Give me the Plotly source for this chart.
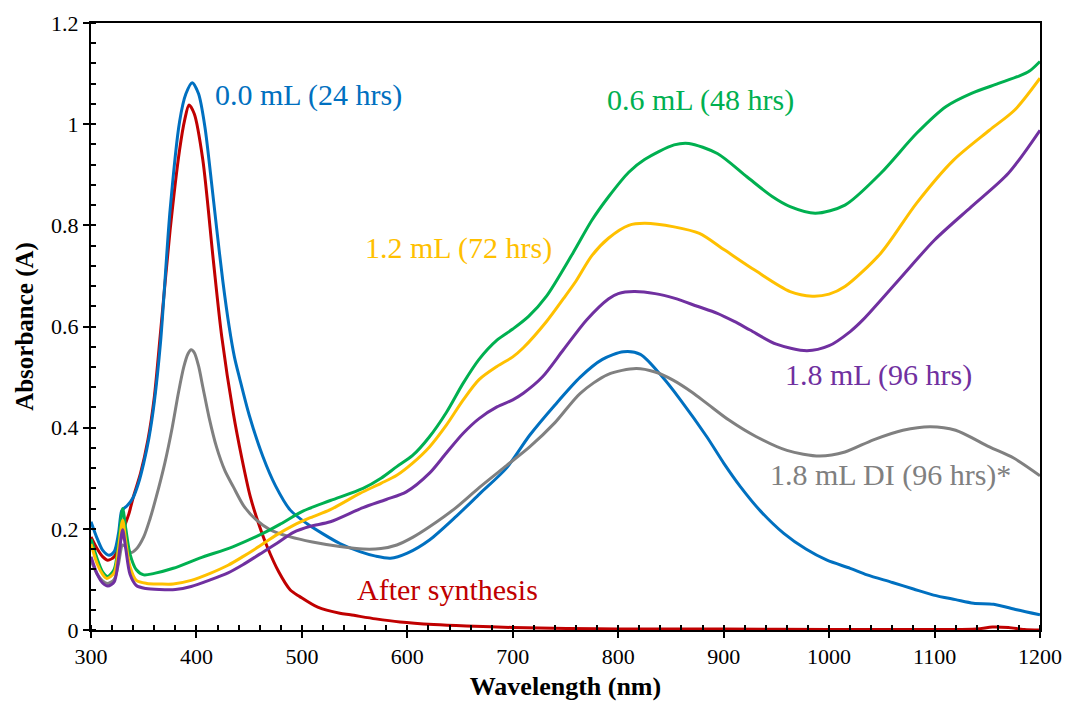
import plotly.graph_objects as go

# ---- data (wavelength in nm, absorbance in A) ----
wl_00 = [300, 306, 311, 317, 322, 326, 329, 331, 334, 340, 345, 350, 355, 360, 366, 375, 384, 390, 396, 402, 408, 414, 419, 425, 431, 436, 441, 450, 463, 475, 489, 505, 520, 536, 555, 570, 584, 600, 621, 645, 669, 694, 716, 740, 764, 785, 805, 821, 842, 859, 884, 900, 916, 935, 957, 978, 998, 1020, 1036, 1060, 1080, 1099, 1120, 1137, 1156, 1178, 1200]
abs_00 = [0.214, 0.18, 0.158, 0.148, 0.155, 0.19, 0.235, 0.24, 0.245, 0.262, 0.29, 0.33, 0.38, 0.45, 0.57, 0.83, 1.005, 1.06, 1.082, 1.06, 0.995, 0.89, 0.797, 0.69, 0.6, 0.54, 0.497, 0.425, 0.343, 0.285, 0.237, 0.21, 0.19, 0.171, 0.155, 0.146, 0.142, 0.152, 0.178, 0.222, 0.27, 0.32, 0.385, 0.445, 0.5, 0.535, 0.55, 0.545, 0.5, 0.455, 0.382, 0.33, 0.283, 0.235, 0.191, 0.16, 0.138, 0.122, 0.109, 0.094, 0.081, 0.069, 0.06, 0.053, 0.051, 0.04, 0.03]

wl_after = [300, 306, 311, 316, 322, 327, 331, 336, 340, 347, 354, 360, 366, 375, 384, 389, 393, 398, 406, 416, 424, 435, 443, 451, 459, 467, 478, 489, 498, 515, 536, 546, 570, 593, 625, 656, 700, 751, 800, 900, 1000, 1100, 1140, 1155, 1170, 1185, 1200]
abs_after = [0.184, 0.16, 0.145, 0.138, 0.145, 0.17, 0.2, 0.23, 0.262, 0.31, 0.376, 0.46, 0.59, 0.79, 0.949, 1.01, 1.038, 1.02, 0.93, 0.731, 0.58, 0.428, 0.34, 0.264, 0.21, 0.165, 0.115, 0.079, 0.066, 0.045, 0.033, 0.03, 0.022, 0.016, 0.011, 0.008, 0.005, 0.003, 0.002, 0.002, 0.001, 0.001, 0.002, 0.006, 0.005, 0.001, 0.0]

wl_di = [300, 306, 311, 316, 322, 326, 330, 334, 338, 343, 350, 356, 362, 370, 377, 383, 388, 392, 395, 398, 402, 406, 412, 419, 427, 435, 445, 457, 470, 489, 510, 536, 558, 575, 590, 605, 621, 645, 669, 694, 716, 740, 764, 790, 817, 835, 852, 870, 884, 905, 931, 960, 991, 1015, 1042, 1070, 1096, 1120, 1152, 1175, 1200]
abs_di = [0.138, 0.11, 0.097, 0.092, 0.1, 0.13, 0.168, 0.162, 0.153, 0.16, 0.184, 0.22, 0.264, 0.33, 0.4, 0.47, 0.52, 0.546, 0.554, 0.548, 0.522, 0.481, 0.42, 0.362, 0.315, 0.283, 0.245, 0.217, 0.198, 0.184, 0.174, 0.165, 0.16, 0.161, 0.168, 0.183, 0.204, 0.24, 0.283, 0.325, 0.362, 0.41, 0.468, 0.505, 0.517, 0.51, 0.494, 0.47, 0.448, 0.415, 0.382, 0.355, 0.344, 0.352, 0.376, 0.395, 0.402, 0.395, 0.362, 0.34, 0.305]

wl_06 = [300, 306, 311, 316, 322, 326, 330, 333, 337, 343, 350, 360, 378, 403, 435, 463, 480, 501, 527, 558, 575, 590, 605, 621, 637, 653, 668, 685, 700, 715, 732, 757, 775, 791, 810, 825, 853, 867, 894, 922, 946, 963, 987, 1015, 1049, 1083, 1111, 1135, 1160, 1180, 1190, 1200]
abs_06 = [0.18, 0.14, 0.115, 0.106, 0.12, 0.17, 0.24, 0.2, 0.15, 0.119, 0.109, 0.112, 0.122, 0.142, 0.165, 0.191, 0.21, 0.235, 0.256, 0.28, 0.3, 0.323, 0.345, 0.382, 0.43, 0.488, 0.535, 0.573, 0.595, 0.62, 0.66, 0.745, 0.81, 0.857, 0.905, 0.93, 0.959, 0.962, 0.942, 0.896, 0.857, 0.837, 0.824, 0.84, 0.903, 0.982, 1.035, 1.061, 1.08, 1.095, 1.105, 1.124]

wl_12 = [300, 306, 311, 315, 322, 326, 330, 333, 337, 343, 353, 365, 378, 395, 413, 430, 444, 460, 476, 492, 508, 527, 555, 575, 590, 605, 621, 637, 653, 668, 685, 700, 710, 732, 748, 760, 775, 791, 810, 825, 853, 877, 901, 929, 963, 984, 1000, 1015, 1049, 1083, 1118, 1152, 1176, 1200]
abs_12 = [0.17, 0.13, 0.11, 0.102, 0.113, 0.16, 0.217, 0.175, 0.125, 0.098, 0.092, 0.091, 0.091, 0.098, 0.112, 0.128, 0.145, 0.166, 0.188, 0.207, 0.222, 0.238, 0.27, 0.29, 0.306, 0.33, 0.362, 0.405, 0.455, 0.495, 0.521, 0.54, 0.558, 0.61, 0.655, 0.69, 0.74, 0.775, 0.8, 0.804, 0.797, 0.784, 0.751, 0.712, 0.669, 0.66, 0.664, 0.679, 0.745, 0.844, 0.929, 0.988, 1.028, 1.091]

wl_18 = [300, 306, 311, 316, 322, 326, 330, 333, 337, 343, 352, 365, 380, 395, 413, 430, 444, 460, 476, 492, 508, 527, 558, 580, 599, 621, 637, 653, 668, 685, 700, 710, 728, 748, 770, 791, 800, 815, 835, 853, 875, 894, 910, 925, 950, 979, 1000, 1020, 1032, 1066, 1100, 1135, 1170, 1200]
abs_18 = [0.145, 0.11, 0.093, 0.087, 0.095, 0.14, 0.198, 0.16, 0.11, 0.088, 0.082, 0.08, 0.08, 0.086, 0.099, 0.113, 0.129, 0.15, 0.171, 0.193, 0.205, 0.214, 0.242, 0.258, 0.273, 0.31, 0.35, 0.389, 0.418, 0.441, 0.455, 0.468, 0.5, 0.554, 0.613, 0.655, 0.665, 0.669, 0.665, 0.656, 0.64, 0.626, 0.61, 0.593, 0.565, 0.552, 0.562, 0.59, 0.613, 0.692, 0.771, 0.837, 0.903, 0.988]

series = [
    ("After synthesis", wl_after, abs_after, "#C00000", 550.4, 0.081),
    ("0.0 mL (24 hrs)", wl_00, abs_00, "#0070C0", 415.7, 1.058),
    ("1.8 mL DI (96 hrs)*", wl_di, abs_di, "#808080", 942, 0.306),
    ("0.6 mL (48 hrs)", wl_06, abs_06, "#00B050", 787.5, 1.048),
    ("1.2 mL (72 hrs)", wl_12, abs_12, "#FFC000", 558, 0.755),
    ("1.8 mL (96 hrs)", wl_18, abs_18, "#7030A0", 956, 0.504),
]

FONT = "Liberation Serif"

fig = go.Figure()
for name, x, y, color, lx, ly in series:
    fig.add_trace(go.Scatter(x=x, y=y, mode="lines", name=name,
                             line=dict(color=color, width=3, shape="spline", smoothing=0.8),
                             showlegend=False, hoverinfo="skip"))
    fig.add_annotation(x=lx, y=ly, text=name, showarrow=False, xanchor="left",
                       yanchor="middle", font=dict(family=FONT, size=30, color=color))

axis_common = dict(showgrid=False, zeroline=False, showline=True, linecolor="black",
                   linewidth=2, mirror=True, ticks="outside", ticklen=6, tickwidth=1.5,
                   tickcolor="black", automargin=False,
                   tickfont=dict(family=FONT, size=22, color="black"))

fig.update_xaxes(range=[300, 1200], dtick=100, tick0=300,
                 minor=dict(ticks="inside", dtick=20, ticklen=5, tickwidth=1.5, tickcolor="black"),
                 title=dict(text="<b>Wavelength (nm)</b>", font=dict(family=FONT, size=26, color="black"), standoff=8),
                 **axis_common)
fig.update_yaxes(range=[0, 1.2], dtick=0.2, tick0=0,
                 minor=dict(ticks="inside", dtick=0.04, ticklen=5, tickwidth=1.5, tickcolor="black"),
                 title=dict(text="<b>Absorbance (A)</b>", font=dict(family=FONT, size=25, color="black"), standoff=10),
                 **axis_common)

# inside halves of the crossing major ticks
fig.update_layout(
    xaxis2=dict(overlaying="x", anchor="y", range=[300, 1200], dtick=100, tick0=300,
                ticks="inside", ticklen=5, tickwidth=1.5, tickcolor="black", automargin=False,
                showticklabels=False, showgrid=False, zeroline=False, showline=False),
    yaxis2=dict(overlaying="y", anchor="x", range=[0, 1.2], dtick=0.2, tick0=0,
                ticks="inside", ticklen=5, tickwidth=1.5, tickcolor="black", automargin=False,
                showticklabels=False, showgrid=False, zeroline=False, showline=False),
)

fig.update_layout(width=1065, height=704, margin=dict(l=91, r=25, t=23, b=74),
                  plot_bgcolor="white", paper_bgcolor="white",
                  font=dict(family=FONT, color="black"))

fig.write_html("out.html")
